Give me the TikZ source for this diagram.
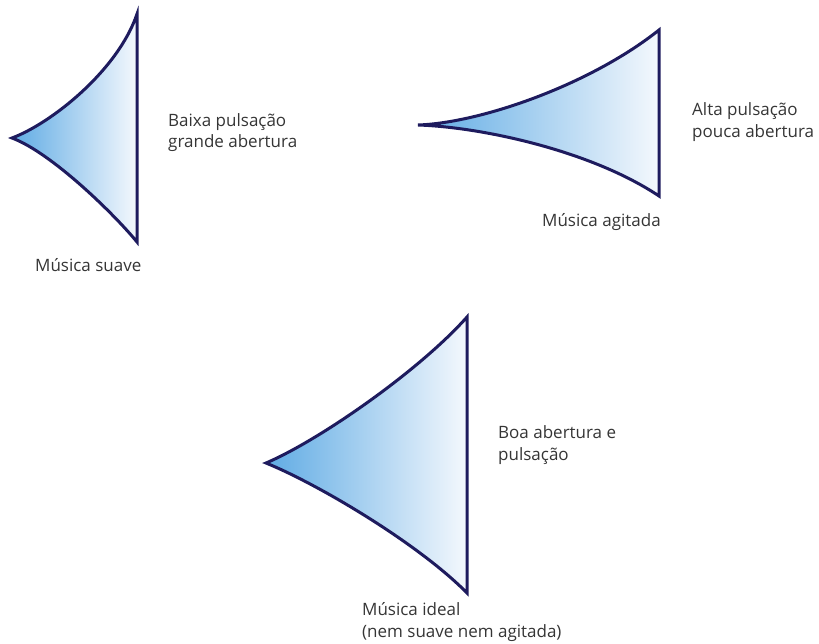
\documentclass[tikz,border=0pt]{standalone}
\usepackage{fontspec}
\setmainfont{Open Sans}
\definecolor{navy}{HTML}{1E1B5E}
\definecolor{tipblue}{HTML}{5FABE4}
\definecolor{edgewhite}{HTML}{F4F8FD}
\definecolor{txt}{HTML}{353535}
\begin{document}
\begin{tikzpicture}[x=1pt,y=-1pt,
  sail/.style={draw=navy,line width=3pt,line join=miter,miter limit=20,left color=tipblue,right color=edgewhite},
  lbl/.style={anchor=base west,inner sep=0,text=txt,font=\fontsize{17}{21}\selectfont}]
\useasboundingbox (0,0) rectangle (819,644);
% shape 1: Musica suave
\coordinate (s1tip) at (12,138);
\coordinate (s1top) at (137,14);
\coordinate (s1bot) at (137,242);
\path[sail] (s1tip) .. controls (52,123) and (118,70) .. (s1top) -- (s1bot)
  .. controls (115,215) and (52,153) .. (s1tip) -- cycle;
\node[lbl] (b1) at (168,127) {Baixa pulsação};
\node[lbl] (b2) at (168,148) {grande abertura};
\node[lbl] (m1) at (35,272) {Música suave};
% shape 2: Musica agitada
\coordinate (s2tip) at (418,125);
\coordinate (s2top) at (659,30);
\coordinate (s2bot) at (659,196);
\path[sail] (s2tip) .. controls (480,123) and (590,85) .. (s2top) -- (s2bot)
  .. controls (590,150) and (480,127) .. (s2tip) -- cycle;
\node[lbl] (a1) at (692,116) {Alta pulsação};
\node[lbl] (a2) at (692,138) {pouca abertura};
\node[lbl] (m2) at (542,227) {Música agitada};
% shape 3: Musica ideal
\coordinate (s3tip) at (266,463);
\coordinate (s3top) at (467,317);
\coordinate (s3bot) at (467,593);
\path[sail] (s3tip) .. controls (320,440) and (420,370) .. (s3top) -- (s3bot)
  .. controls (420,545) and (320,485) .. (s3tip) -- cycle;
\node[lbl] (c1) at (498,438) {Boa abertura e};
\node[lbl] (c2) at (498,460) {pulsação};
\node[lbl] (m3) at (362,615) {Música ideal};
\node[lbl] (m4) at (362,637) {(nem suave nem agitada)};
\end{tikzpicture}
\end{document}
